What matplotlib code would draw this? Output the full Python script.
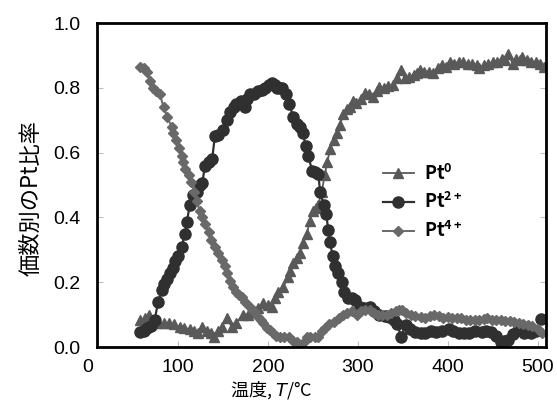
import matplotlib
matplotlib.use('Agg')
import matplotlib.pyplot as plt

# フォント設定
plt.rcParams['font.family'] = ['Noto Sans CJK JP', 'DejaVu Sans']
plt.rcParams['mathtext.fontset'] = 'custom'
plt.rcParams['mathtext.rm'] = 'Noto Sans CJK JP'
plt.rcParams['mathtext.bf'] = 'Noto Sans CJK JP:bold'
plt.rcParams['mathtext.it'] = 'DejaVu Sans:italic'
plt.rcParams['axes.unicode_minus'] = False

# Pt0
t_pt0 = [58, 63, 68, 73, 78, 84, 90, 96, 102, 107, 113, 118, 122, 127, 132, 137, 140, 145, 149, 154,
         160, 165, 172, 178, 183, 189, 195, 200, 204, 208, 211, 217, 222, 225, 228, 232, 236, 239, 243, 247,
         250, 253, 256, 260, 263, 266, 269, 274, 277, 280, 284, 288, 291, 295, 298, 303, 308, 312, 317, 321,
         324, 329, 334, 339, 344, 348, 352, 357, 362, 366, 369, 374, 379, 384, 389, 393, 398, 402, 407, 412,
         417, 422, 427, 432, 435, 440, 445, 450, 455, 460, 464, 467, 472, 476, 480, 483, 488, 493, 498, 503, 507]
pt0 = [.083, .09, .10, .085, .074, .075, .074, .07, .062, .06, .055, .05, .043, .062, .05, .045, .031, .05, .062, .09,
       .062, .075, .10, .10, .108, .12, .135, .13, .125, .15, .17, .185, .215, .235, .26, .275, .29, .32, .35, .39,
       .42, .43, .44, .48, .53, .57, .61, .64, .66, .685, .72, .735, .742, .76, .752, .765, .783, .78, .773, .79,
       .804, .80, .805, .809, .83, .855, .829, .835, .84, .845, .855, .85, .85, .845, .86, .87, .865, .88, .875, .88,
       .88, .875, .875, .87, .86, .87, .875, .88, .88, .89, .885, .906, .875, .89, .885, .896, .885, .88, .88, .875, .865]

# Pt2+
t_pt2 = [58, 62, 66, 70, 74, 78, 82, 85, 88, 91, 94, 97, 100, 104, 108, 110, 113, 117, 121, 124,
         127, 130, 134, 138, 141, 145, 150, 154, 158, 162, 165, 170, 174, 177, 180, 185, 189, 193, 197, 201,
         204, 208, 210, 213, 216, 220, 224, 228, 232, 236, 239, 242, 245, 249, 252, 256, 258, 262, 265, 267,
         269, 272, 275, 278, 282, 285, 289, 293, 297, 302, 307, 313, 318, 324, 330, 335, 340, 344, 348, 353,
         358, 364, 370, 375, 381, 387, 394, 401, 406, 412, 418, 423, 430, 438, 443, 448, 454, 459, 463, 467,
         472, 478, 485, 492, 498, 504]
pt2 = [.047, .05, .06, .065, .083, .14, .175, .195, .21, .23, .245, .265, .28, .31, .35, .385, .44, .47, .48, .50,
       .505, .56, .57, .58, .65, .655, .67, .70, .725, .74, .75, .76, .74, .765, .78, .78, .79, .795, .80, .81,
       .815, .81, .80, .80, .80, .78, .75, .71, .69, .68, .66, .62, .59, .545, .54, .535, .48, .44, .41, .36,
       .325, .28, .25, .23, .20, .17, .15, .15, .145, .125, .12, .125, .11, .099, .095, .094, .085, .07, .032, .068,
       .055, .047, .045, .042, .05, .047, .05, .057, .05, .042, .045, .042, .05, .047, .05, .047, .035, .016, .02, .021,
       .04, .052, .045, .042, .05, .088]

# Pt4+
t_pt4 = [58, 62, 66, 69, 72, 76, 80, 84, 88, 93, 95, 98, 101, 104, 106, 108, 112, 115, 118, 121,
         124, 127, 130, 134, 137, 141, 145, 149, 152, 154, 158, 161, 165, 168, 171, 175, 180, 184, 189, 192,
         195, 199, 202, 206, 209, 213, 218, 224, 228, 232, 237, 241, 244, 247, 252, 256, 260, 263, 268, 274,
         279, 284, 288, 293, 299, 304, 308, 313, 318, 322, 327, 332, 337, 342, 346, 349, 354, 359, 364, 370,
         375, 380, 385, 390, 395, 400, 405, 410, 415, 420, 425, 430, 435, 440, 444, 449, 454, 459, 464, 469,
         474, 479, 484, 489, 494, 500, 505]
pt4 = [.864, .86, .85, .82, .80, .79, .78, .74, .71, .68, .66, .64, .615, .59, .57, .55, .53, .51, .48, .45,
       .42, .40, .38, .355, .33, .31, .29, .27, .25, .23, .205, .185, .17, .16, .155, .14, .125, .11, .093, .085,
       .075, .06, .052, .045, .035, .03, .03, .03, .02, .015, .006, .02, .03, .03, .03, .03, .05, .06, .07, .077,
       .09, .10, .105, .11, .10, .11, .115, .115, .105, .10, .099, .10, .105, .11, .115, .115, .105, .099, .095, .094,
       .09, .095, .099, .095, .09, .094, .09, .09, .089, .085, .085, .083, .085, .088, .089, .085, .083, .083, .08, .08,
       .078, .075, .07, .068, .065, .057, .042]

x_ticks = [0, 100, 200, 300, 400, 500]
y_ticks = [0.0, 0.2, 0.4, 0.6, 0.8, 1.0]

fig = plt.figure(figsize=(5.57, 4.05), dpi=100)
ax = fig.add_axes([0.158, 0.143, 0.822, 0.800])

ax.plot(t_pt0, pt0, color='#595959', marker='^', markersize=6.5, linewidth=1.3, label='Pt$^{\\mathbf{0}}$')
ax.plot(t_pt2, pt2, color='#303030', marker='o', markersize=8, linewidth=1.6, label='Pt$^{\\mathbf{2+}}$')
ax.plot(t_pt4, pt4, color='#696969', marker='D', markersize=5, linewidth=1.4, label='Pt$^{\\mathbf{4+}}$')

ax.set_xlim(0, 509)
ax.set_ylim(0, 1.0)
ax.set_xticks(x_ticks)
ax.set_yticks(y_ticks)
ax.set_yticklabels(['%.1f' % v for v in y_ticks])

# 軸線
for s in ax.spines.values():
    s.set_linewidth(2.0)
    s.set_color('black')
ax.spines['left'].set_position(('data', 10))
ax.spines['bottom'].set_bounds(10, 509)
ax.spines['top'].set_bounds(10, 509)

ax.tick_params(axis='both', direction='in', length=4, width=0.8, color='#c0c0c0', labelsize=14)
ax.tick_params(axis='y', right=True, pad=12)
ax.tick_params(axis='x', pad=8.3)
ax.xaxis.get_major_ticks()[0].tick1line.set_visible(False)
# 目盛の数字は行高の小さいフォントで
for lab in ax.get_xticklabels() + ax.get_yticklabels():
    lab.set_family('Liberation Sans')

ax.set_xlabel('温度, $\\mathit{T}$/°C', fontsize=13)
ax.set_ylabel('価数別のPt比率', fontsize=16)
ax.xaxis.set_label_coords(0.40, -0.097)
ax.yaxis.set_label_coords(-0.10, 0.46)

ax.legend(loc='center left', bbox_to_anchor=(0.644, 0.4475), frameon=False,
          prop={'size': 13, 'weight': 'bold'},
          borderpad=0, borderaxespad=0, handlelength=1.7, labelspacing=0.45, handletextpad=0.6)

plt.savefig('out.png', dpi=100)
